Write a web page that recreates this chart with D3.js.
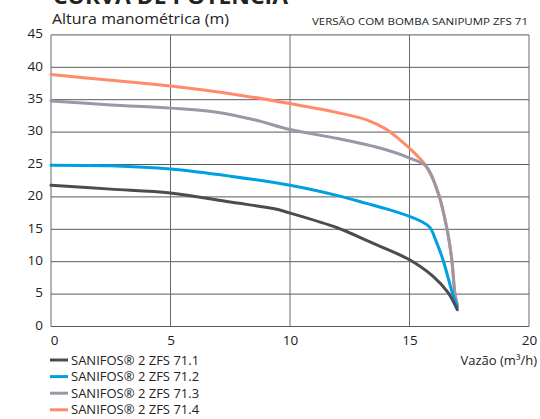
<!DOCTYPE html>
<html><head><meta charset="utf-8">
<script src="https://cdn.jsdelivr.net/npm/d3@7"></script>
<style>body{margin:0;background:#fff}svg{display:block}text{font-family:"Open Sans",sans-serif;fill:#222}</style>
</head><body><svg id="c" width="540" height="419"></svg>
<script>
const title = "CURVA DE POTÊNCIA";
const yTitle = "Altura manométrica (m)";
const subTitle = "VERSÃO COM BOMBA SANIPUMP ZFS 71";
const xTitle = "Vazão (m³/h)";
const xTicks = [0, 5, 10, 15, 20];
const yTicks = [0, 5, 10, 15, 20, 25, 30, 35, 40, 45];
const seriesNames = ["SANIFOS® 2 ZFS 71.1", "SANIFOS® 2 ZFS 71.2", "SANIFOS® 2 ZFS 71.3", "SANIFOS® 2 ZFS 71.4"];
const seriesColors = ["#4a4c4e", "#009fe3", "#9a97a6", "#ff8b6b"];
const s711 = [[0,21.8],[2.5,21.2],[5,20.6],[7.5,19.2],[9.3,18.2],[10,17.5],[12,15.2],[13.2,13.3],[14,12.0],[15,10.3],[16,7.7],[16.6,5.3],[17,2.6]];
const s712 = [[0,24.9],[2.5,24.8],[5,24.3],[7.5,23.2],[10,21.8],[12,20.2],[13.2,19.0],[14,18.2],[15,17.0],[15.5,16.2],[15.85,15.3],[16.1,13.3],[16.4,10.3],[16.8,5.1],[17,3.0]];
const s713 = [[0,34.8],[2.5,34.2],[5,33.7],[6.8,33.15],[8.5,31.9],[10,30.4],[12,29.0],[13.8,27.5],[15,26.0],[15.7,24.7],[16.2,20.6],[16.55,15.4],[16.77,10.3],[16.9,5.1],[17,3.3]];
const s714 = [[0,38.9],[2.5,38.0],[5,37.1],[7.9,35.7],[10,34.4],[12,33.0],[13.2,31.9],[14,30.5],[14.6,28.8],[15.2,26.8],[15.7,24.7],[16.2,20.6],[16.55,15.4],[16.77,10.3],[16.9,5.1],[17,3.3]];
const seriesData = [s711, s712, s713, s714];

const svg = d3.select("#c");
const x = d3.scaleLinear().domain([0, 20]).range([51, 529]);
const y = d3.scaleLinear().domain([0, 45]).range([326.5, 34.9]);

// title (cut at top)
svg.append("text").attr("x", 53).attr("y", 4).attr("font-size", 21).attr("font-weight", 700)
  .attr("textLength", 235).attr("lengthAdjust", "spacingAndGlyphs").text(title);
svg.append("text").attr("x", 52).attr("y", 24).attr("font-size", 15)
  .attr("textLength", 177).attr("lengthAdjust", "spacingAndGlyphs").text(yTitle);
svg.append("text").attr("x", 528).attr("y", 24.5).attr("font-size", 9.5).attr("text-anchor", "end")
  .attr("textLength", 216).attr("lengthAdjust", "spacingAndGlyphs").text(subTitle);

// grid
const g = svg.append("g");
g.selectAll("line.h").data(yTicks).join("line").attr("class","h")
  .attr("x1", x(0)).attr("x2", x(20)).attr("y1", d => y(d)).attr("y2", d => y(d))
  .attr("stroke", "#5a5a5a").attr("stroke-width", 1);
g.selectAll("line.v").data(xTicks).join("line").attr("class","v")
  .attr("x1", d => x(d)).attr("x2", d => x(d)).attr("y1", y(0)).attr("y2", y(45))
  .attr("stroke", "#6a6a6a").attr("stroke-width", 1);

// axis labels
const yAxis = d3.axisLeft(y).tickValues(yTicks).tickSize(0).tickPadding(8);
const ya = svg.append("g").attr("transform", `translate(${x(0)},0)`).call(yAxis);
ya.select(".domain").remove();
ya.selectAll("text").attr("font-size", 13.5).attr("font-family", "Open Sans").attr("fill", "#222").attr("dy", "0.2em");
const xAxis = d3.axisBottom(x).tickValues(xTicks).tickSize(0).tickPadding(9);
const xa = svg.append("g").attr("transform", `translate(0,${y(0)})`).call(xAxis);
xa.select(".domain").remove();
xa.selectAll("text").attr("font-size", 13.5).attr("font-family", "Open Sans").attr("fill", "#222");
xa.selectAll(".tick").filter(d => d === 0).select("text").attr("dx", 3);

svg.append("text").attr("x", 537).attr("y", 364.8).attr("font-size", 13).attr("text-anchor", "end").text(xTitle);

// curves
const line = d3.line().x(d => x(d[0])).y(d => y(d[1])).curve(d3.curveCatmullRom.alpha(0.5));
const order = [3, 2, 1, 0];
svg.append("g").selectAll("path").data(order).join("path")
  .attr("d", i => line(seriesData[i])).attr("fill", "none")
  .attr("stroke", i => seriesColors[i]).attr("stroke-width", 3).attr("stroke-linejoin", "round").attr("stroke-linecap", "round");

// legend
const lg = svg.append("g").selectAll("g").data(seriesNames).join("g")
  .attr("transform", (d, i) => `translate(0,${360 + i * 16.6})`);
lg.append("line").attr("x1", 50).attr("x2", 68).attr("y1", 0).attr("y2", 0)
  .attr("stroke", (d, i) => seriesColors[i]).attr("stroke-width", 3);
lg.append("text").attr("x", 71).attr("y", 4.6).attr("font-size", 13).text(d => d);
</script></body></html>
